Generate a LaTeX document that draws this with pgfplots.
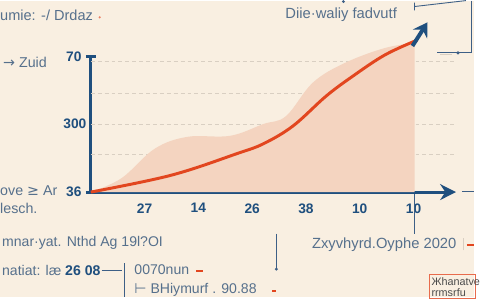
\documentclass[border=0pt]{standalone}
\usepackage{fontspec}
\setmainfont{Liberation Sans}
\newfontfamily\dejavu{DejaVu Sans}
\usepackage{pgfplots}
\pgfplotsset{compat=1.18}
\usetikzlibrary{arrows.meta}
\definecolor{bg}{HTML}{F9EFE1}
\definecolor{navy}{HTML}{1F4F7E}
\definecolor{lineor}{HTML}{E2461F}
\definecolor{areac}{HTML}{F4D4C0}
\definecolor{gridc}{HTML}{D9CFC2}
\definecolor{txtc}{HTML}{56708C}
\definecolor{deco}{HTML}{3D5F86}
\newcommand{\fs}[1]{\fontsize{#1}{#1}\selectfont}
\begin{document}
\begin{tikzpicture}[x=1bp,y=1bp]
\fill[bg] (0,0) rectangle (480,300);
\begin{axis}[
  scale only axis, width=370bp, height=137bp,
  at={(92bp,106bp)}, anchor=south west,
  xmin=0, xmax=6.79, ymin=0, ymax=137,
  axis lines*=left, clip=false,
  x axis line style={draw=navy, line width=3bp, -{Stealth[length=16bp,width=16bp]}},
  y axis line style={draw=navy, line width=3bp},
  xtick={1,2,3,4,5,6}, xticklabels={27,14,26,38,10,10},
  ytick={0,137}, yticklabels={36,70},
  ticklabel style={font=\bfseries\fs{14}, text=navy},
  x tick style={draw=none},
  y tick style={draw=navy, line width=3bp},
  major tick length=10bp, tick align=center,
  xticklabel style={yshift=-3bp},
  yticklabel style={xshift=-1bp},
  extra y ticks={38,69,100,132}, extra y tick labels={,300,,},
  extra y tick style={grid=major, major tick length=0pt, major grid style={gridc, dash pattern=on 4bp off 3bp, line width=0.7bp}},
]
\addplot[draw=none, fill=areac, smooth, tension=0.6] coordinates {(0,0)(0.57,14)(1.19,44)(1.80,56)(2.59,57)(3.21,69)(3.63,77)(4.13,111)(4.73,131)(5.47,146)(6.02,151)} \closedcycle;
\addplot[lineor, line width=3bp, smooth, tension=0.6] coordinates {(0,0)(1.49,17)(2.72,39)(3.21,49)(3.76,67)(4.37,97)(4.86,117)(5.47,139)(6.07,154)};
\addplot[navy, line width=4bp, -{Stealth[length=14bp,width=17bp,inset=5bp]}] coordinates {(5.98,148)(6.26,172)};
\end{axis}
% text annotations
\tikzset{txt/.style={anchor=west, inner sep=0pt, text=txtc}}
\node[txt, font=\fs{14.8}] at (0,285) {umie: -/ Drdaz};
\fill[lineor!70] (101,283) circle (1.2);
\node[txt, font=\fs{14.5}] at (3,237) {{\dejavu →} Zuid};
\node[txt, font=\fs{14.5}] at (0,107) {ove {\dejavu ≥} Ar};
\node[txt, font=\fs{14.5}] at (0,89) {lesch.};
\node[txt, font=\fs{15}] at (289,286) {Diie·waliy fadvutf};
\node[txt, font=\fs{14.3}] at (2,55) {mnar·yat. Nthd Ag 19l?OI};
\node[txt, font=\fs{14.3}] at (2,27) {natiat: læ \textcolor{navy}{\bfseries 26 08}};
\node[txt, font=\fs{14.3}] at (136,27) {0070nun};
\node[txt, font=\fs{14.3}] at (136,7) {{\dejavu ⊢} BHiymurf . 90.88};
\node[txt, font=\fs{15}] at (316,53) {Zxyvhyrd.Oyphe 2020};
% decorations
\draw[deco, line width=0.9bp] (103,27)--(124,27) (126,34)--(126,0);
\draw[deco, line width=0.9bp] (280,64)--(280,29);
\fill[deco] (280,28) circle (1.7);
\draw[deco, line width=0.9bp] (420,104)--(420,64);
\draw[lineor, line width=2bp] (199,26)--(206,26);
\draw[lineor, line width=2bp] (276,6)--(280,6);
\draw[gridc, line width=1bp] (470,47)--(470,59);
\draw[lineor, line width=2bp] (473,52)--(480,52);
\draw[lineor!80, line width=0.8bp] (435,23) rectangle (482,-2);
\node[txt, font=\fs{11}, text=black!70] at (437,15) {Жhanatve};
\node[txt, font=\fs{11}, text=black!70] at (437,4) {rrmsrfu};
\draw[deco, line width=0.9bp] (420,290)--(420,298) (420,294)--(472,300);
\fill[deco] (348,299) circle (1.6);
\draw[deco, line width=0.9bp] (478,300)--(478,247) (443,247)--(478,247);
\fill[deco] (464,247) circle (1.8);
\draw[deco, line width=1bp] (468,107)--(480,107);
\draw[gridc, line width=1bp] (446,245)--(458,245);
\end{tikzpicture}
\end{document}
